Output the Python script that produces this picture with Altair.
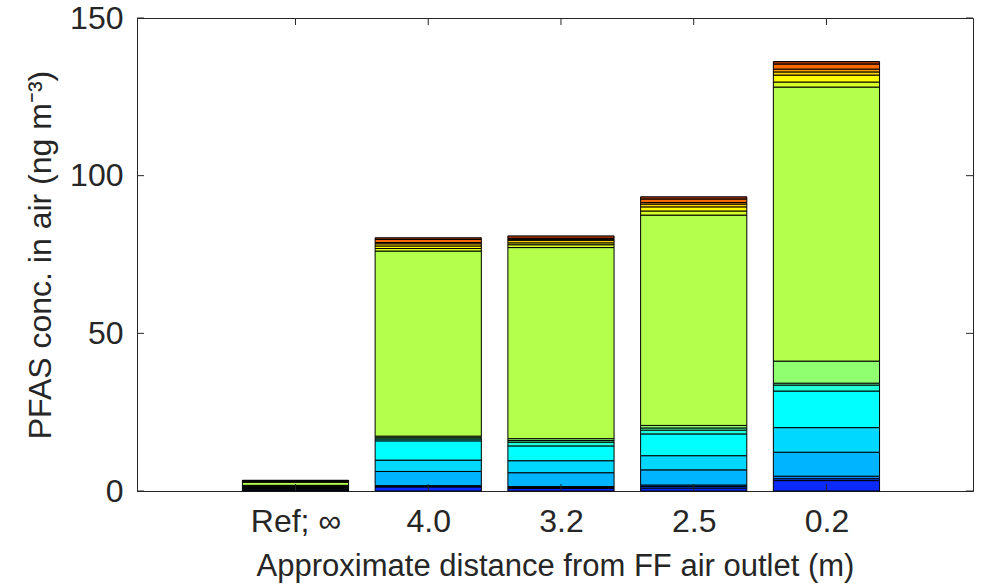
import altair as alt
import pandas as pd

# ---- data ----
categories = ["Ref; \u221e", "4.0", "3.2", "2.5", "0.2"]
positions = [1, 2, 3, 4, 5]
compounds = [f"C{i:02d}" for i in range(1, 17)]
colors = ["#0a2aff", "#0050ff", "#0086ff", "#00b4ff", "#00d8ff", "#00ffff",
          "#20ffd8", "#50ffa8", "#90ff70", "#b4ff4c", "#d8ff28", "#ffff00",
          "#ffd200", "#ffa000", "#ff6a00", "#a03200"]

ref_vals = [0.3, 0.1, 0.1, 0.3, 0.3, 0.4, 0.1, 0.1, 0.1, 0.9, 0.1, 0.2, 0.1, 0.1, 0.1, 0.1]
d40_vals = [1.3, 0.2, 0.2, 4.5, 3.6, 6.1, 0.6, 0.4, 0.5, 58.7, 0.8, 0.8, 0.7, 0.4, 1.0, 0.5]
d32_vals = [0.8, 0.3, 0.3, 4.4, 3.8, 4.7, 1.2, 0.5, 0.6, 60.6, 0.9, 0.6, 0.8, 0.3, 0.3, 0.8]
d25_vals = [0.9, 0.5, 0.5, 4.8, 4.5, 6.9, 1.2, 0.7, 0.8, 66.7, 1.3, 1.3, 0.9, 0.5, 1.1, 0.7]
d02_vals = [3.3, 0.6, 0.8, 7.6, 7.8, 11.6, 1.9, 0.6, 7.0, 86.9, 1.6, 2.2, 1.0, 0.9, 1.6, 0.8]

y_ticks = [0, 50, 100, 150]

series = [ref_vals, d40_vals, d32_vals, d25_vals, d02_vals]
rows = []
for pos, vals in zip(positions, series):
    base = 0.0
    for k, (c, v) in enumerate(zip(compounds, vals)):
        rows.append({"pos": pos, "x0": pos - 0.4, "x1": pos + 0.4,
                     "compound": c, "order": k, "y0": base, "y1": base + v})
        base += v
df = pd.DataFrame(rows)

W, H = 836, 473
xdom = [-0.194, 6.104]
ink = "#262626"

xscale = alt.Scale(domain=xdom, nice=False, zero=False)
yscale = alt.Scale(domain=[0, 150], nice=False)

label_arr = "[" + ",".join("'" + c + "'" for c in categories) + "]"

bars = alt.Chart(df).mark_bar(stroke="black", strokeWidth=1, opacity=1).encode(
    x=alt.X("x0:Q", scale=xscale,
            axis=alt.Axis(values=positions, labelExpr=label_arr + "[datum.value-1]",
                          title="Approximate distance from FF air outlet (m)",
                          grid=False, tickSize=0, labelPadding=15, titlePadding=14,
                          titleFontSize=31)),
    x2="x1:Q",
    y=alt.Y("y0:Q", scale=yscale,
            axis=alt.Axis(values=y_ticks, title="PFAS conc. in air (ng m\u207b\u00b3)",
                          grid=False, tickSize=0, labelPadding=14, titlePadding=12,
                          titleFontSize=32)),
    y2="y1:Q",
    color=alt.Color("compound:N", scale=alt.Scale(domain=compounds, range=colors), legend=None),
    order=alt.Order("order:Q"),
)

tick_len = 7
ydf = pd.DataFrame({"v": y_ticks})
xdf = pd.DataFrame({"p": positions})

yt_left = alt.Chart(ydf).mark_rule(color=ink, strokeWidth=1).encode(
    y=alt.Y("v:Q", scale=yscale), x=alt.value(0), x2=alt.value(tick_len))
yt_right = alt.Chart(ydf).mark_rule(color=ink, strokeWidth=1).encode(
    y=alt.Y("v:Q", scale=yscale), x=alt.value(W - tick_len), x2=alt.value(W))
xt_bot = alt.Chart(xdf).mark_rule(color=ink, strokeWidth=1).encode(
    x=alt.X("p:Q", scale=xscale), y=alt.value(H), y2=alt.value(H - tick_len))
xt_top = alt.Chart(xdf).mark_rule(color=ink, strokeWidth=1).encode(
    x=alt.X("p:Q", scale=xscale), y=alt.value(0), y2=alt.value(tick_len))

chart = alt.layer(bars, yt_left, yt_right, xt_bot, xt_top).properties(
    width=W, height=H,
    autosize=alt.AutoSizeParams(type="none"),
    padding={"left": 137, "top": 18, "right": 24, "bottom": 97},
    background="white",
).configure_view(stroke=ink, strokeWidth=1).configure_axis(
    domainColor=ink, labelColor=ink, titleColor=ink,
    labelFont="Liberation Sans", titleFont="Liberation Sans",
    labelFontSize=32, titleFontWeight="normal",
)

chart.save("out.html", embed_options={"renderer": "svg", "actions": False})
